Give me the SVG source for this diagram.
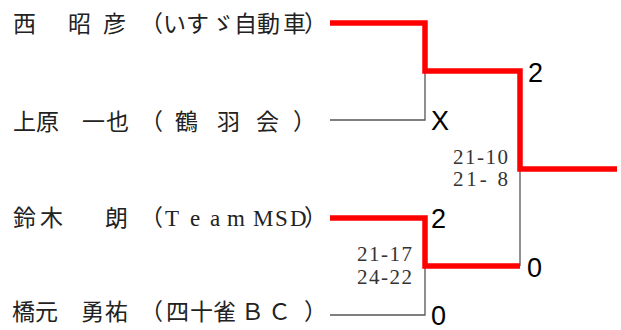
<svg xmlns="http://www.w3.org/2000/svg" width="621" height="330" viewBox="0 0 621 330">
<style>
.name{font-family:"Liberation Serif","Noto Sans CJK JP",serif;font-size:23px;fill:#222}
.score{font-family:"Liberation Serif","Noto Sans CJK JP",serif;font-size:21px;fill:#333}
.res{font-family:"Liberation Sans",Arial,sans-serif;font-size:27px;fill:#000}
.win{fill:none;stroke:#ff0000;stroke-width:5.5;stroke-linejoin:miter}
.lose{fill:none;stroke:#555;stroke-width:1.3}
</style>
<rect width="621" height="330" fill="#fff"/>
<g id="connectors">
<path class="lose" d="M330,120 H425 V71"/>
<path class="lose" d="M330,315 H425 V266"/>
<path class="lose" d="M520,169 V266"/>
<path class="win" d="M330,23 H425 V71 H520 V169 H617"/>
<path class="win" d="M330,218 H425 V266 H520"/>
</g>
<g id="p1"><text class="name" y="32" x="13 40 68 103 140 163 186 211 234 257 283 304">西 昭彦（いすゞ自動車）</text></g>
<g id="p2"><text class="name" y="130" x="13 36 60 82 106 130 140 165 175 199 217 241 256 280 293">上原 一也 （ 鶴 羽 会 ）</text></g>
<g id="p3"><text class="name" y="226" x="13 40 75 105 140 165 190 210 227 247 253 275 290 304">鈴木 朗（Team MSD）</text></g>
<g id="p4"><text class="name" y="320" x="12 35 59 81 105 140 166 190 213 241 268 304">橋元 勇祐（四十雀ＢＣ）</text></g>
<g id="r1"><text class="res" x="528" y="82">2</text></g>
<g id="r2"><text class="res" x="431" y="130">X</text></g>
<g id="r3"><text class="res" x="431" y="228">2</text></g>
<g id="r4"><text class="res" x="527" y="277">0</text></g>
<g id="r5"><text class="res" x="431" y="325">0</text></g>
<g id="s1"><text class="score" x="453" y="164" textLength="55" lengthAdjust="spacing">21-10</text><text class="score" x="453" y="186" textLength="55" lengthAdjust="spacing">21- 8</text></g>
<g id="s2"><text class="score" x="357" y="261" textLength="55" lengthAdjust="spacing">21-17</text><text class="score" x="357" y="284" textLength="55" lengthAdjust="spacing">24-22</text></g>
</svg>
